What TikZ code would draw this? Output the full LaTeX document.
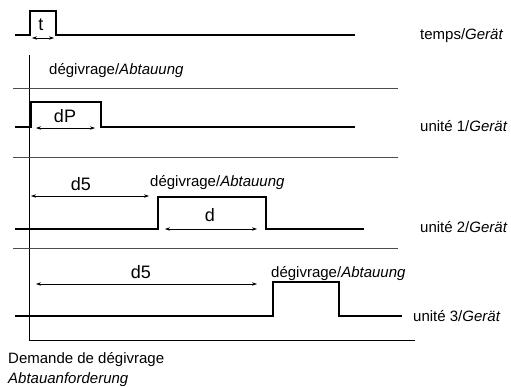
\documentclass[tikz,border=0pt]{standalone}
\usepackage{fontspec}
\setmainfont{Liberation Sans}
\usetikzlibrary{arrows.meta}
\begin{document}
\begin{tikzpicture}[x=1pt,y=-1pt,
  signal/.style={line width=2.1pt,line join=miter},
  sep/.style={line width=1pt,black!70},
  axis/.style={line width=0.9pt,black},
  dim/.style={line width=0.7pt,{Stealth[length=5pt,width=3.4pt]}-{Stealth[length=5pt,width=3.4pt]}},
  lbl/.style={font=\fontsize{15}{18}\selectfont,inner sep=0pt,anchor=base west},
  clbl/.style={font=\fontsize{18}{21}\selectfont,inner sep=0pt,anchor=base}]
\useasboundingbox (0,0) rectangle (511,387);
% axes and separators
\draw[axis] (29,55) -- (29,340) -- (415,340);
\draw[sep] (13,89) -- (398,89);
\draw[sep] (13,158) -- (398,158);
\draw[sep] (13,249) -- (398,249);
% signals
\draw[signal] (15,35) -- (30,35) -- (30,11) -- (56,11) -- (56,35) -- (355,35);
\draw[signal] (15,127) -- (31,127) -- (31,102) -- (101,102) -- (101,127) -- (355,127);
\draw[signal] (15,229) -- (158,229) -- (158,197) -- (266,197) -- (266,229) -- (364,229);
\draw[signal] (15,316) -- (273,316) -- (273,282) -- (339,282) -- (339,316) -- (402,316);
% dimension coordinates
\coordinate (t1) at (32,38); \coordinate (t2) at (54,38);
\coordinate (p1) at (36,128); \coordinate (p2) at (95,128);
\coordinate (a1) at (31,196); \coordinate (a2) at (149,196);
\coordinate (b1) at (165,229); \coordinate (b2) at (257,229);
\coordinate (c1) at (36,284); \coordinate (c2) at (257,284);
\draw[dim] (t1) -- (t2);
\draw[dim] (p1) -- (p2);
\draw[dim] (a1) -- (a2);
\draw[dim] (b1) -- (b2);
\draw[dim] (c1) -- (c2);
% labels
\node[clbl] (lt) at (41,31) {t};
\node[clbl] (ldp) at (65,123) {dP};
\node[clbl] (ld5a) at (81,191) {d5};
\node[clbl] (ld) at (210,222) {d};
\node[clbl] (ld5b) at (141,278) {d5};
\node[lbl] (deg0) at (49,75) {dégivrage/\textit{Abtauung}};
\node[lbl] (deg2) at (150,187) {dégivrage/\textit{Abtauung}};
\node[lbl] (deg3) at (271,277) {dégivrage/\textit{Abtauung}};
\node[lbl] (temps) at (420,40) {temps/\textit{Gerät}};
\node[lbl] (u1) at (420,132) {unité 1/\textit{Gerät}};
\node[lbl] (u2) at (420,233) {unité 2/\textit{Gerät}};
\node[lbl] (u3) at (413,321) {unité 3/\textit{Gerät}};
\node[lbl] (dem) at (8,363) {Demande de dégivrage};
\node[lbl] (abt) at (8,383) {\textit{Abtauanforderung}};
\end{tikzpicture}
\end{document}
